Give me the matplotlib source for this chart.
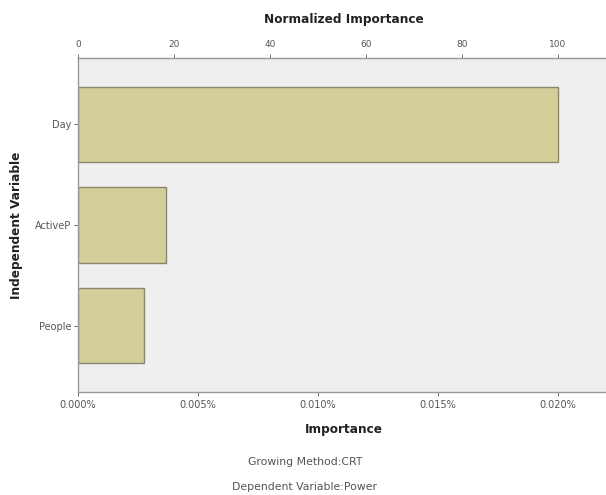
import matplotlib
matplotlib.use("Agg")
import matplotlib.pyplot as plt
from matplotlib.ticker import FuncFormatter

categories = ["Day", "ActiveP", "People"]
importance = [0.0200, 0.00366, 0.00276]  # percent
top_ticks = [0, 20, 40, 60, 80, 100]
bottom_ticks = [0.000, 0.005, 0.010, 0.015, 0.020]

fig = plt.figure(figsize=(6.06, 4.95), dpi=100)
ax = fig.add_axes([78/606, 1-392/495, 1-78/606, (392-58)/495])
ax.set_facecolor("#efefef")

ypos = list(range(len(categories)))
ax.barh(ypos, importance, height=0.75, color="#d3cf98", edgecolor="#8a8770", linewidth=1.0)
ax.set_yticks(ypos)
ax.set_yticklabels(categories, fontsize=7, color="#555555")
ax.set_ylim(2.66, -0.66)

day = importance[0]
ax.set_xlim(0, day * 1.10)
ax.set_xticks(bottom_ticks)
ax.xaxis.set_major_formatter(FuncFormatter(lambda v, p: f"{v:.3f}%"))
ax.tick_params(axis="x", labelsize=7, colors="#555555", length=3, width=0.6, pad=3)
ax.tick_params(axis="y", labelsize=7, colors="#555555", length=3, width=0.6, pad=2)
for s in ["left", "bottom", "top"]:
    ax.spines[s].set_color("#9a9a9a")
    ax.spines[s].set_linewidth(1.0)
ax.spines["right"].set_visible(False)

sec = ax.secondary_xaxis("top", functions=(lambda x: x / day * 100, lambda n: n * day / 100))
sec.set_xticks(top_ticks)
sec.tick_params(labelsize=6.5, colors="#555555", length=3, width=0.6)
sec.spines["top"].set_color("#9a9a9a")

fig.text(344/606, 1-20/495, "Normalized Importance", ha="center", va="center",
         fontsize=8.7, fontweight="bold", color="#222222")
fig.text(344/606, 1-430/495, "Importance", ha="center", va="center",
         fontsize=8.7, fontweight="bold", color="#222222")
fig.text(17/606, 1-225/495, "Independent Variable", ha="center", va="center",
         rotation=90, fontsize=8.7, fontweight="bold", color="#222222")
fig.text(305/606, 1-462/495, "Growing Method:CRT", ha="center", va="center",
         fontsize=7.8, color="#555555")
fig.text(305/606, 1-487/495, "Dependent Variable:Power", ha="center", va="center",
         fontsize=7.8, color="#555555")

fig.savefig("out.png", dpi=100, facecolor="white")
